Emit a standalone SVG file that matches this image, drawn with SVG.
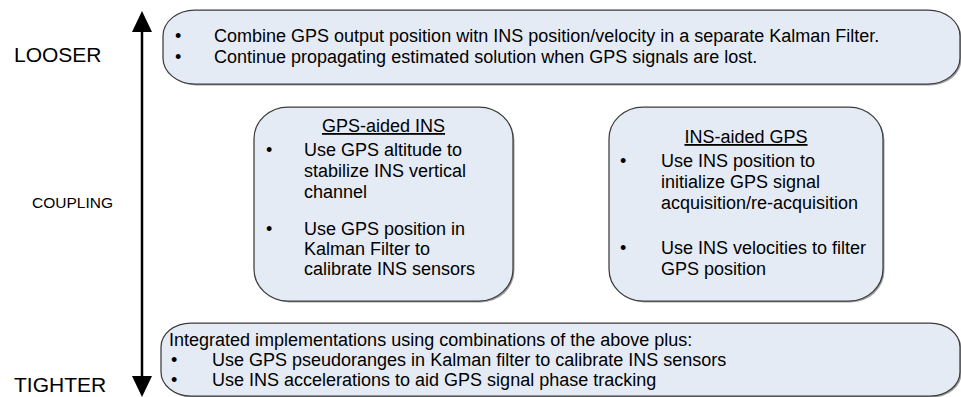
<svg xmlns="http://www.w3.org/2000/svg" width="961" height="397" viewBox="0 0 961 397">
  <style>
    text { font-family: "Liberation Sans", Arial, sans-serif; fill: #000; }
    .body { font-size: 18px; }
    .side { font-size: 21px; }
    .axis { font-size: 15.5px; }
    .title { font-size: 18px; text-decoration: underline; }
    .box { fill: #e5ebf5; stroke: #3c3c3c; stroke-width: 1.25; }
    .shadow { fill: #a0a0a0; }
    .axisline { stroke: #000; stroke-width: 2.5; fill: none; }
  </style>
  <defs>
    <marker id="head" markerUnits="userSpaceOnUse" markerWidth="21" markerHeight="20" refX="0" refY="10" orient="auto-start-reverse" viewBox="0 0 21 20">
      <path d="M0,0 L21,10 L0,20 Z" fill="#000"/>
    </marker>
  </defs>

  <rect width="961" height="397" fill="#fff"/>

  <!-- coupling axis -->
  <g id="connectors">
    <line class="axisline" x1="142" y1="32" x2="142" y2="376" marker-start="url(#head)" marker-end="url(#head)"/>
  </g>

  <g id="axis-labels">
    <text class="side" x="14" y="62">LOOSER</text>
    <text class="axis" x="32" y="208">COUPLING</text>
    <text class="side" x="14" y="392">TIGHTER</text>
  </g>

  <!-- loosely coupled -->
  <g id="loose">
    <rect class="shadow" x="164.5" y="11.5" width="797" height="74" rx="32" ry="26"/>
    <rect class="box" x="163" y="10" width="797" height="74" rx="32" ry="26"/>
    <text class="body" x="175" y="42">•</text>
    <text class="body" x="214" y="42">Combine GPS output position witn INS position/velocity in a separate Kalman Filter.</text>
    <text class="body" x="175" y="63">•</text>
    <text class="body" x="214" y="63">Continue propagating estimated solution when GPS signals are lost.</text>
  </g>

  <!-- GPS-aided INS -->
  <g id="gps-aided-ins">
    <rect class="shadow" x="255.5" y="108.5" width="259" height="194" rx="34" ry="32"/>
    <rect class="box" x="254" y="107" width="259" height="194" rx="34" ry="32"/>
    <text class="title" x="383.5" y="132" text-anchor="middle">GPS-aided INS</text>
    <text class="body" x="266" y="156">•</text>
    <text class="body" x="304" y="156">Use GPS altitude to</text>
    <text class="body" x="304" y="177">stabilize INS vertical</text>
    <text class="body" x="304" y="198">channel</text>
    <text class="body" x="266" y="235">•</text>
    <text class="body" x="304" y="235">Use GPS position in</text>
    <text class="body" x="304" y="255">Kalman Filter to</text>
    <text class="body" x="304" y="275">calibrate INS sensors</text>
  </g>

  <!-- INS-aided GPS -->
  <g id="ins-aided-gps">
    <rect class="shadow" x="610.5" y="108.5" width="274" height="194" rx="34" ry="32"/>
    <rect class="box" x="609" y="107" width="274" height="194" rx="34" ry="32"/>
    <text class="title" x="746" y="143" text-anchor="middle">INS-aided GPS</text>
    <text class="body" x="620" y="167">•</text>
    <text class="body" x="661" y="167">Use INS position to</text>
    <text class="body" x="661" y="188">initialize GPS signal</text>
    <text class="body" x="661" y="209">acquisition/re-acquisition</text>
    <text class="body" x="620" y="254">•</text>
    <text class="body" x="661" y="254">Use INS velocities to filter</text>
    <text class="body" x="661" y="275">GPS position</text>
  </g>

  <!-- tightly coupled -->
  <g id="tight">
    <rect class="shadow" x="162.5" y="324.5" width="799" height="73" rx="30" ry="24"/>
    <rect class="box" x="161" y="323" width="799" height="73" rx="30" ry="24"/>
    <text class="body" x="169" y="346">Integrated implementations using combinations of the above plus:</text>
    <text class="body" x="171" y="366">•</text>
    <text class="body" x="212" y="366">Use GPS pseudoranges in Kalman filter to calibrate INS sensors</text>
    <text class="body" x="171" y="386">•</text>
    <text class="body" x="212" y="386">Use INS accelerations to aid GPS signal phase tracking</text>
  </g>
</svg>
